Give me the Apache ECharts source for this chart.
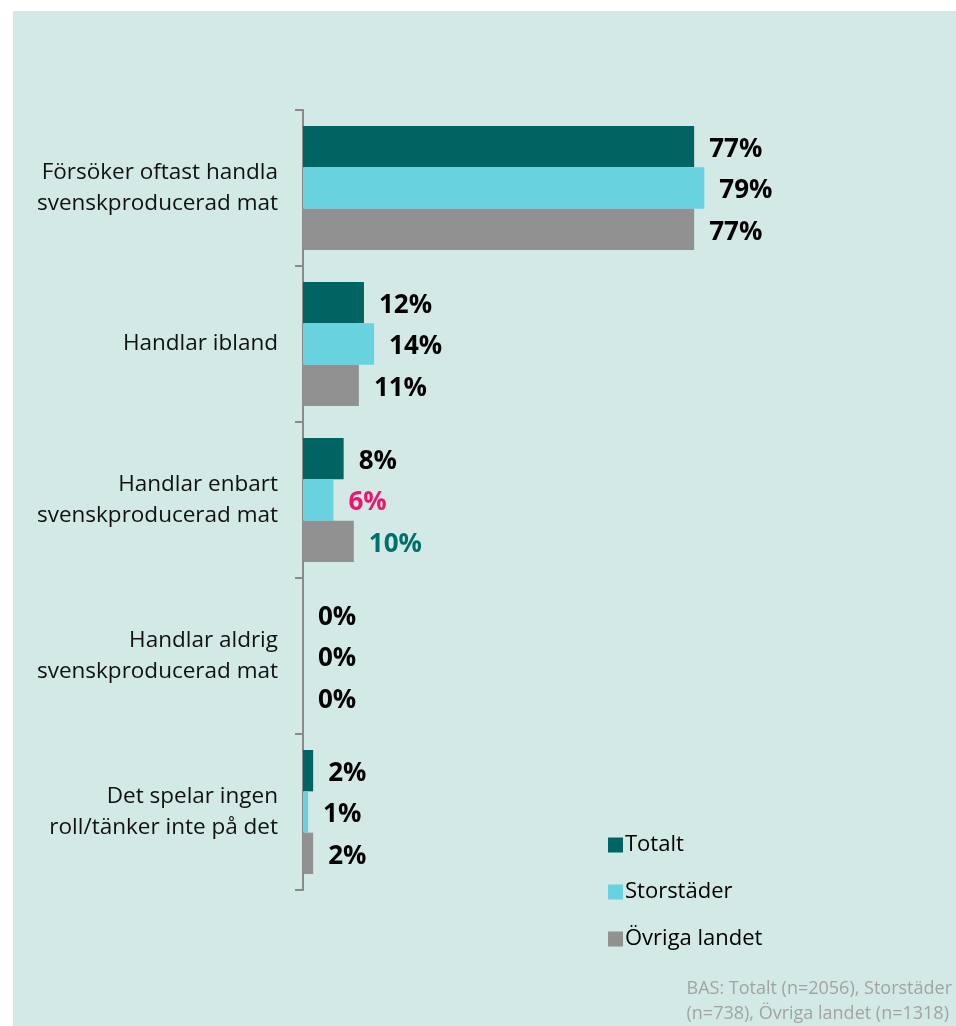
<!DOCTYPE html>
<html>
<head>
<meta charset="utf-8">
<script src="https://cdn.jsdelivr.net/npm/echarts@6/dist/echarts.min.js"></script>
<style>
  html, body { margin: 0; padding: 0; background: #fff; }
  .bg { position: absolute; left: 13px; top: 11px; right: 0; bottom: 0; background: #d2e9e6; }
  #chart { position: absolute; left: 0; top: 0; width: 956px; height: 1026px; }
</style>
</head>
<body>
<div class="bg"></div>
<div id="chart"></div>
<script>
// kategorier (uppifrån och ned)
const categories = [
  "Försöker oftast handla\nsvenskproducerad mat",
  "Handlar ibland",
  "Handlar enbart\nsvenskproducerad mat",
  "Handlar aldrig\nsvenskproducerad mat",
  "Det spelar ingen\nroll/tänker inte på det"
];
const seriesNames = ["Totalt", "Storstäder", "Övriga landet"];
const totalt = [77, 12, 8, 0, 2];
const storstader = [79, 14, 6, 0, 1];
const ovriga = [77, 11, 10, 0, 2];
const footnote = "BAS: Totalt (n=2056), Storstäder\n(n=738), Övriga landet (n=1318)";

const colors = ["#006462", "#68d2df", "#919191"];
// avvikande etikettfärger (serieindex -> kategoriindex -> färg)
const labelColors = { 1: { 2: "#f0146e" }, 2: { 2: "#00706a" } };

const FONT = "'Open Sans', Lato, sans-serif";

const chart = echarts.init(document.getElementById("chart"));

const buildData = (vals, si) =>
  vals.map((v, i) => {
    const c = labelColors[si] && labelColors[si][i];
    return c ? { value: v, label: { color: c } } : v;
  });

const option = {
  backgroundColor: "transparent",
  animation: false,
  grid: { left: 303, right: 145, top: 110, bottom: 136 },
  legend: {
    orient: "vertical",
    left: 603,
    top: 829,
    itemWidth: 15,
    itemHeight: 15,
    itemGap: 25,
    icon: "rect",
    textStyle: { fontSize: 22, color: "#000", fontFamily: FONT, padding: [0, 0, 0, -3] },
    data: seriesNames
  },
  xAxis: {
    type: "value",
    min: 0,
    max: 100,
    show: false
  },
  yAxis: {
    type: "category",
    inverse: true,
    data: categories,
    axisLine: { show: true, lineStyle: { color: "#8a8a8a", width: 2 } },
    axisTick: { show: true, length: 8, lineStyle: { color: "#8a8a8a", width: 2 } },
    axisLabel: {
      fontSize: 22.5,
      lineHeight: 31,
      color: "#111",
      fontFamily: FONT,
      margin: 25,
      align: "right"
    }
  },
  series: seriesNames.map((name, si) => ({
    name,
    type: "bar",
    data: buildData([totalt, storstader, ovriga][si], si),
    barGap: "0%",
    barCategoryGap: "20.5%",
    itemStyle: { color: colors[si] },
    label: {
      show: true,
      position: "right",
      distance: 15,
      offset: [0, 3],
      formatter: "{c}%",
      fontSize: 26,
      fontWeight: "bold",
      color: "#000",
      fontFamily: FONT
    }
  })),
  graphic: [
    {
      type: "text",
      right: 4,
      top: 976,
      style: {
        text: footnote,
        fontSize: 18,
        lineHeight: 25,
        fill: "#a3a3a3",
        align: "right",
        fontFamily: FONT
      }
    }
  ]
};

chart.setOption(option);
</script>
</body>
</html>
